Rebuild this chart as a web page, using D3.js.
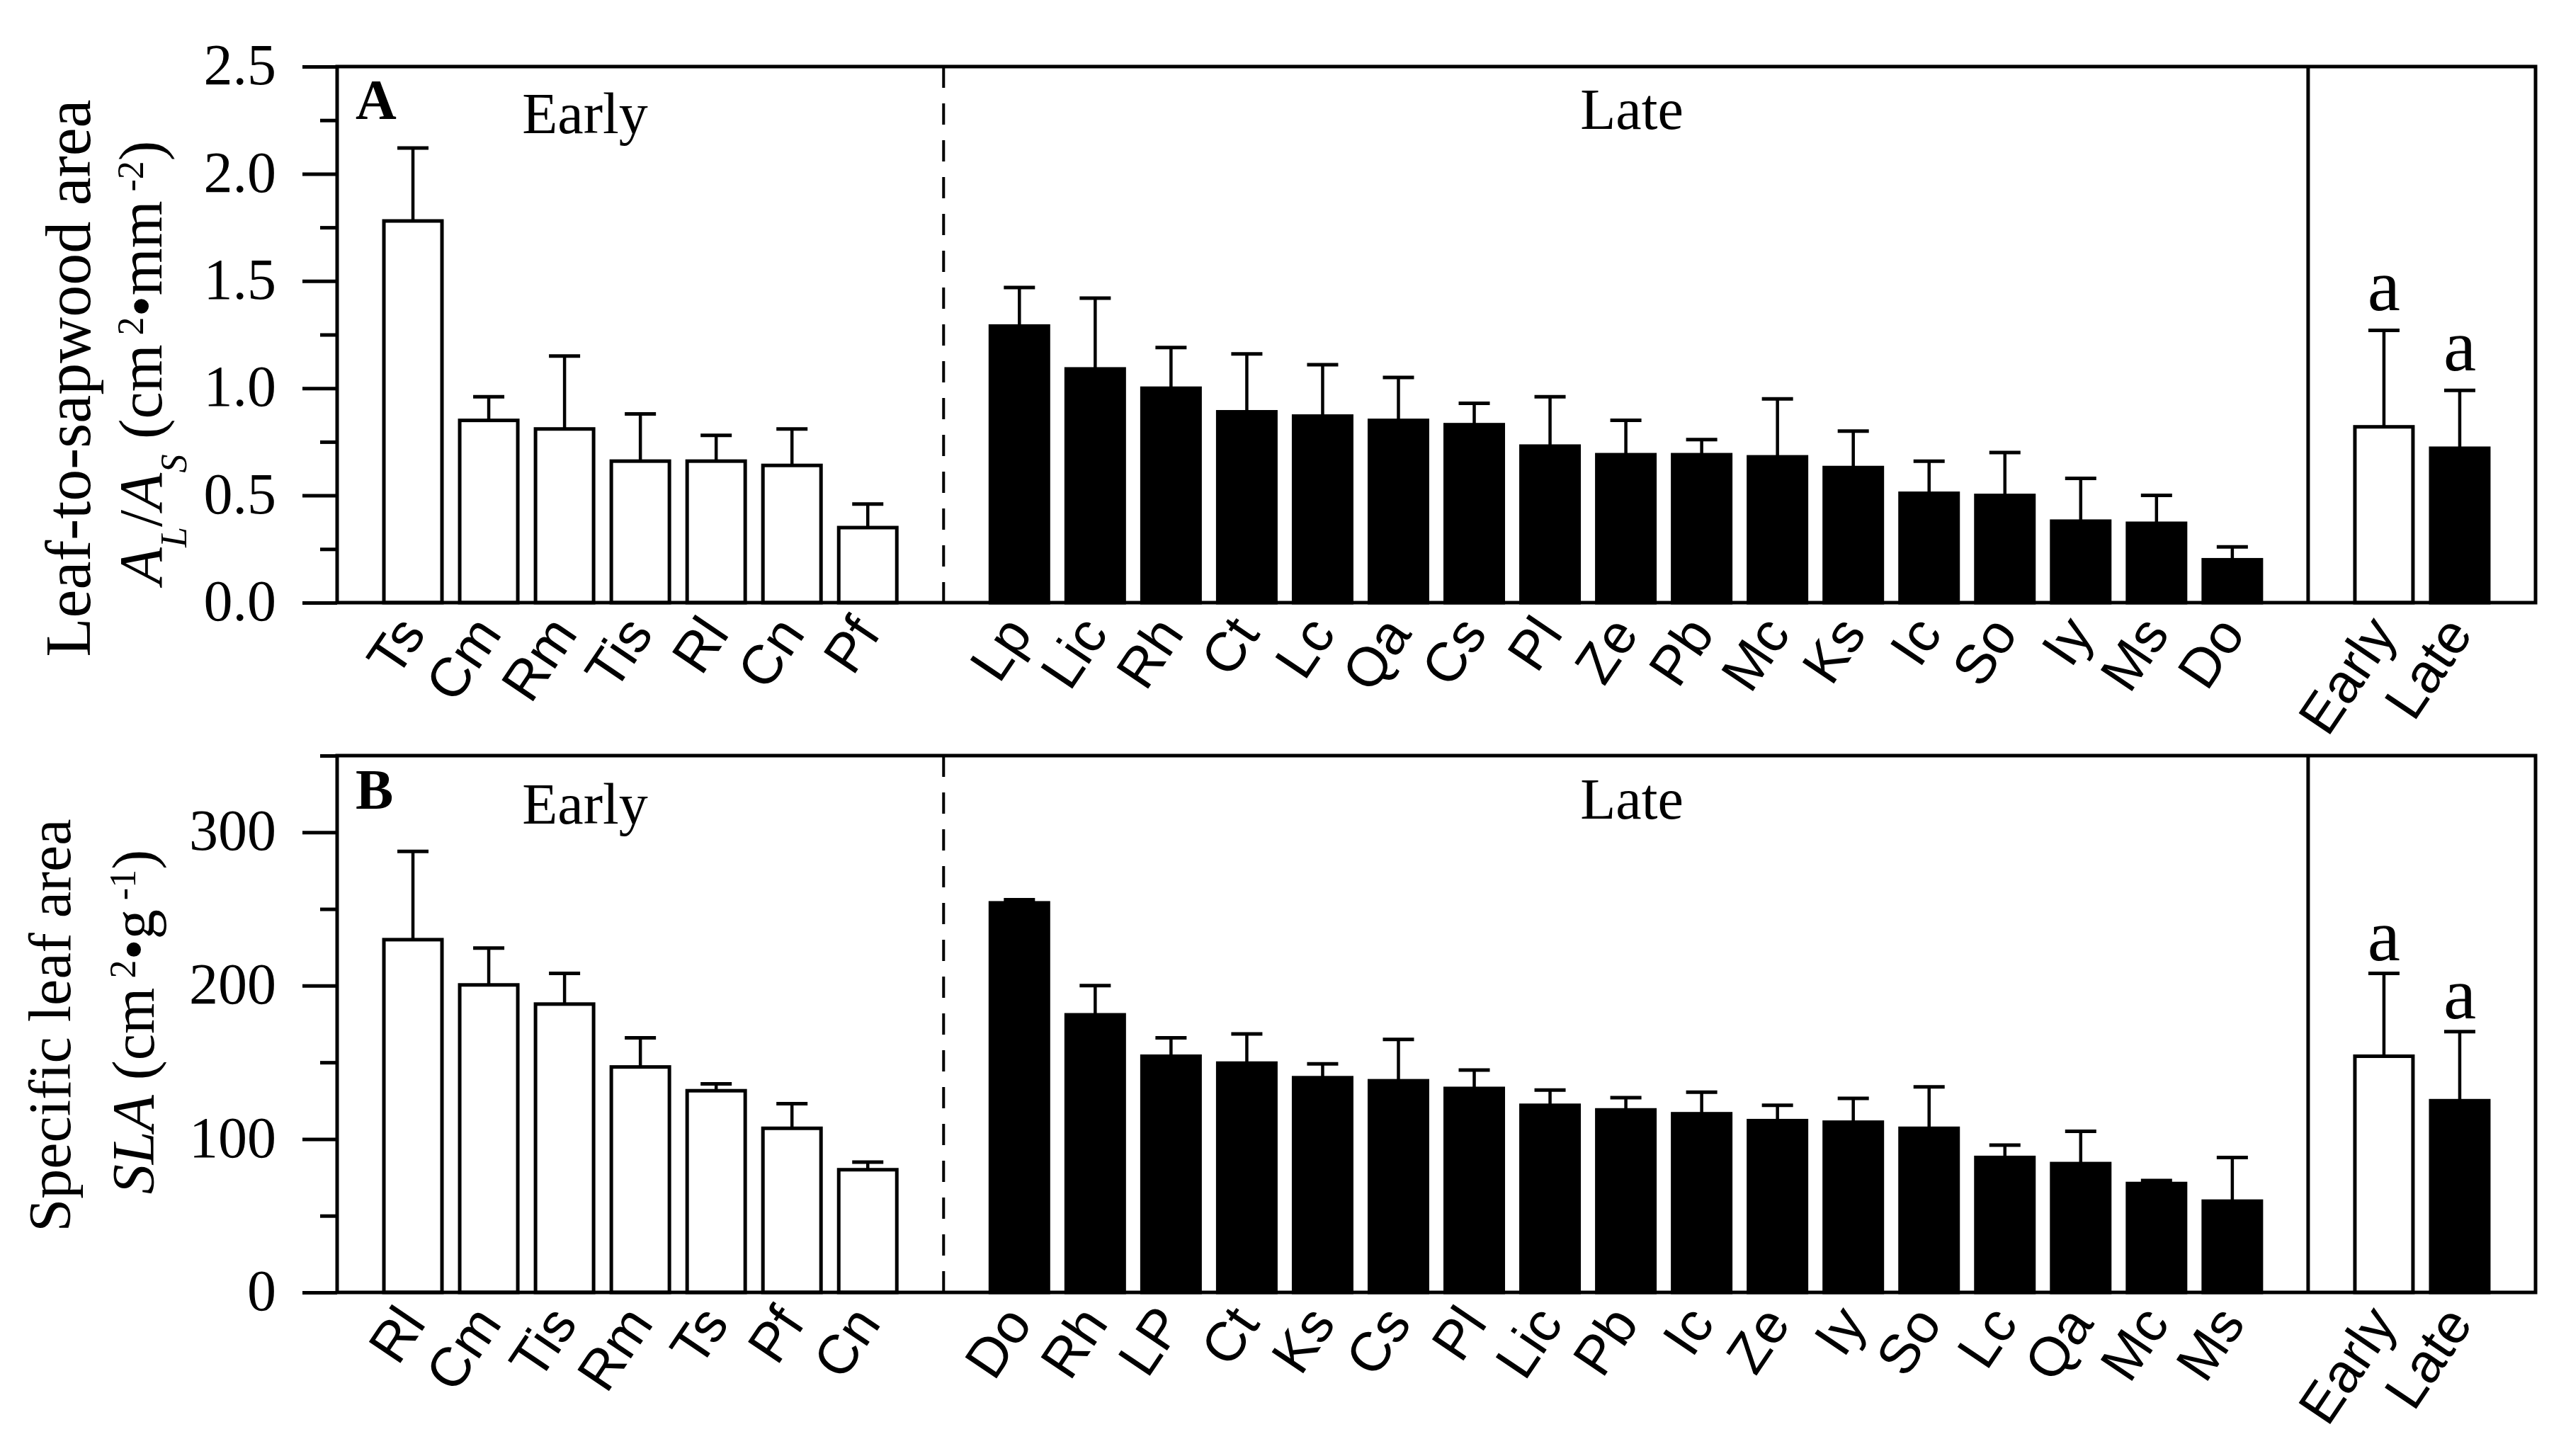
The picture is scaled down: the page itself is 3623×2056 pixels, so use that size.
<!DOCTYPE html>
<html>
<head>
<meta charset="utf-8">
<script src="https://cdn.jsdelivr.net/npm/d3@7"></script>
<style>
  html, body { margin: 0; padding: 0; background: #ffffff; }
  svg { display: block; }
</style>
</head>
<body>
<svg id="chart" width="3623" height="2056"></svg>
<script>
// ---------------- DATA ----------------
// Panel A: leaf-to-sapwood area (cm2 mm-2)
const earlySpeciesA = ["Ts", "Cm", "Rm", "Tis", "Rl", "Cn", "Pf"];
const earlyMeanA    = [1.78, 0.85, 0.81, 0.66, 0.66, 0.64, 0.35];
const earlyErrA     = [0.34, 0.11, 0.34, 0.22, 0.12, 0.17, 0.11];

const lateSpeciesA = ["Lp", "Lic", "Rh", "Ct", "Lc", "Qa", "Cs", "Pl", "Ze", "Pb", "Mc", "Ks", "Ic", "So", "Iy", "Ms", "Do"];
const lateMeanA    = [1.29, 1.09, 1.00, 0.89, 0.87, 0.85, 0.83, 0.73, 0.69, 0.69, 0.68, 0.63, 0.51, 0.50, 0.38, 0.37, 0.20];
const lateErrA     = [0.18, 0.33, 0.19, 0.27, 0.24, 0.20, 0.10, 0.23, 0.16, 0.07, 0.27, 0.17, 0.15, 0.20, 0.20, 0.13, 0.06];

const groupNames  = ["Early", "Late"];
const groupMeanA  = [0.82, 0.72];
const groupErrA   = [0.45, 0.27];
const groupSigA   = ["a", "a"];

// Panel B: specific leaf area (cm2 g-1)
const earlySpeciesB = ["Rl", "Cm", "Tis", "Rm", "Ts", "Pf", "Cn"];
const earlyMeanB    = [230, 200.5, 188, 147, 131.5, 107, 80];
const earlyErrB     = [57.5, 24, 20, 19, 4.5, 16, 5];

const lateSpeciesB = ["Do", "Rh", "LP", "Ct", "Ks", "Cs", "Pl", "Lic", "Pb", "Ic", "Ze", "Iy", "So", "Lc", "Qa", "Mc", "Ms"];
const lateMeanB    = [254, 181, 154, 149.5, 140, 138, 133, 122, 119, 116.5, 112, 111, 107, 88, 84, 71, 59.5];
const lateErrB     = [2, 19, 12, 19, 9, 27, 12, 10, 8, 14, 10, 15.5, 27, 8, 21, 2, 28.5];

const groupMeanB = [154, 125];
const groupErrB  = [54, 45];
const groupSigB  = ["a", "a"];

const ticksA = [0, 0.5, 1.0, 1.5, 2.0, 2.5];
const minorA = [0.25, 0.75, 1.25, 1.75, 2.25];
const ticksB = [0, 100, 200, 300];
const minorB = [50, 150, 250, 350];

// ---------------- DRAWING ----------------
const svg = d3.select("#chart");
svg.append("rect").attr("width", 3623).attr("height", 2056).attr("fill", "#ffffff");

const SERIF = "'Liberation Serif', 'Times New Roman', serif";
const SANS = "'Liberation Sans', Arial, sans-serif";

// shared horizontal slot scale: -1 = left axis, 7 = dashed divider, 25 = solid divider, 28 = right frame
const x = d3.scaleLinear().domain([-1, 28]).range([476, 3580]);
const barW = 82;

function buildRows(earlyNames, earlyMean, earlyErr, lateNames, lateMean, lateErr, gMean, gErr, gSig) {
  const rows = [];
  earlyNames.forEach((n, i) => rows.push({ name: n, pos: i, mean: earlyMean[i], err: earlyErr[i], fill: "#ffffff" }));
  lateNames.forEach((n, i) => rows.push({ name: n, pos: 8 + i, mean: lateMean[i], err: lateErr[i], fill: "#000000" }));
  groupNames.forEach((n, i) => rows.push({ name: n, pos: 26 + i, mean: gMean[i], err: gErr[i], fill: i === 0 ? "#ffffff" : "#000000", sig: gSig[i] }));
  return rows;
}

function drawPanel(cfg) {
  const g = svg.append("g");
  const y = d3.scaleLinear().domain(cfg.domain).range([cfg.bottom, cfg.top]);

  // bars
  g.selectAll("rect.bar").data(cfg.rows).enter().append("rect")
    .attr("class", "bar")
    .attr("x", d => x(d.pos) - barW / 2)
    .attr("y", d => y(d.mean))
    .attr("width", barW)
    .attr("height", d => y(0) - y(d.mean))
    .attr("fill", d => d.fill)
    .attr("stroke", "#000").attr("stroke-width", 5);

  // error bars (upper only)
  const eb = g.selectAll("g.err").data(cfg.rows).enter().append("g").attr("class", "err");
  eb.append("line")
    .attr("x1", d => x(d.pos)).attr("x2", d => x(d.pos))
    .attr("y1", d => y(d.mean)).attr("y2", d => y(d.mean + d.err))
    .attr("stroke", "#000").attr("stroke-width", 4.5);
  eb.append("line")
    .attr("x1", d => x(d.pos) - 22).attr("x2", d => x(d.pos) + 22)
    .attr("y1", d => y(d.mean + d.err)).attr("y2", d => y(d.mean + d.err))
    .attr("stroke", "#000").attr("stroke-width", 5);

  // significance letters
  g.selectAll("text.sig").data(cfg.rows.filter(d => d.sig)).enter().append("text")
    .attr("class", "sig")
    .attr("x", d => x(d.pos)).attr("y", d => y(d.mean + d.err) - cfg.sigGap)
    .attr("text-anchor", "middle")
    .attr("font-family", SERIF).attr("font-size", 104)
    .text(d => d.sig);

  // dashed divider
  g.append("line")
    .attr("x1", x(7)).attr("x2", x(7)).attr("y1", cfg.top).attr("y2", cfg.bottom)
    .attr("stroke", "#000").attr("stroke-width", 4).attr("stroke-dasharray", "30,22");
  // solid divider
  g.append("line")
    .attr("x1", x(25)).attr("x2", x(25)).attr("y1", cfg.top).attr("y2", cfg.bottom)
    .attr("stroke", "#000").attr("stroke-width", 5);

  // frame
  g.append("rect")
    .attr("x", x(-1)).attr("y", cfg.top)
    .attr("width", x(28) - x(-1)).attr("height", cfg.bottom - cfg.top)
    .attr("fill", "none").attr("stroke", "#000").attr("stroke-width", 5);

  // y axis: major ticks with labels
  const ax = g.append("g").attr("transform", `translate(${x(-1)},0)`)
    .call(d3.axisLeft(y).tickValues(cfg.ticks).tickSize(49).tickPadding(37).tickFormat(cfg.fmt));
  ax.select(".domain").remove();
  ax.selectAll(".tick line").attr("stroke", "#000").attr("stroke-width", 5);
  ax.selectAll(".tick text")
    .attr("font-family", SERIF).attr("font-size", 82).attr("fill", "#000").attr("dy", "0.3em");

  // minor ticks
  const mx = g.append("g").attr("transform", `translate(${x(-1)},0)`)
    .call(d3.axisLeft(y).tickValues(cfg.minor).tickSize(24).tickFormat(""));
  mx.select(".domain").remove();
  mx.selectAll(".tick line").attr("stroke", "#000").attr("stroke-width", 5);

  // bottom category labels
  g.selectAll("text.cat").data(cfg.rows).enter().append("text")
    .attr("class", "cat")
    .attr("transform", d => `translate(${x(d.pos) + 20},${cfg.bottom + 44}) rotate(-56)`)
    .attr("text-anchor", "end")
    .attr("font-family", SANS).attr("font-size", 78).attr("fill", "#000")
    .text(d => d.name);

  // panel letter
  g.append("text").attr("x", 502).attr("y", cfg.letterY)
    .attr("font-family", SERIF).attr("font-weight", "bold").attr("font-size", 80)
    .text(cfg.letter);

  // group headers
  g.append("text").attr("x", 826).attr("y", cfg.earlyY).attr("text-anchor", "middle")
    .attr("font-family", SERIF).attr("font-size", 82).text("Early");
  g.append("text").attr("x", 2304).attr("y", cfg.lateY).attr("text-anchor", "middle")
    .attr("font-family", SERIF).attr("font-size", 82).text("Late");

  return g;
}

const rowsA = buildRows(earlySpeciesA, earlyMeanA, earlyErrA, lateSpeciesA, lateMeanA, lateErrA, groupMeanA, groupErrA, groupSigA);
const rowsB = buildRows(earlySpeciesB, earlyMeanB, earlyErrB, lateSpeciesB, lateMeanB, lateErrB, groupMeanB, groupErrB, groupSigB);

drawPanel({
  rows: rowsA, domain: [0, 2.5], top: 94, bottom: 851,
  ticks: ticksA, minor: minorA, fmt: d3.format(".1f"),
  letter: "A", letterY: 168, earlyY: 188, lateY: 182, sigGap: 28
});
drawPanel({
  rows: rowsB, domain: [0, 350], top: 1067, bottom: 1825,
  ticks: ticksB, minor: minorB, fmt: d3.format("d"),
  letter: "B", letterY: 1142, earlyY: 1163, lateY: 1156, sigGap: 19
});

// ---------------- Y AXIS TITLES ----------------
function title(xb, yc, size, parts) {
  const t = svg.append("text")
    .attr("transform", `translate(${xb},${yc}) rotate(-90)`)
    .attr("text-anchor", "middle")
    .attr("font-family", SERIF).attr("font-size", size).attr("fill", "#000");
  parts.forEach(p => {
    const s = t.append("tspan").text(p.t);
    if (p.i) s.attr("font-style", "italic");
    if (p.s) s.attr("font-size", p.s);
    if (p.dy) s.attr("dy", p.dy);
  });
  return t;
}

title(127, 534, 90, [{ t: "Leaf-to-sapwood area" }]);
title(228, 512, 86, [
  { t: "A", i: true },
  { t: "L", i: true, s: 52, dy: 35 },
  { t: "/", dy: -35 },
  { t: "A", i: true },
  { t: "S", i: true, s: 52, dy: 35 },
  { t: " (cm", dy: -35 },
  { t: " 2", s: 52, dy: -26 },
  { t: "\u2022mm", dy: 26 },
  { t: " -2", s: 52, dy: -26 },
  { t: ")", dy: 26 }
]);

title(99, 1448, 84, [{ t: "Specific leaf area" }]);
title(217, 1443, 84, [
  { t: "SLA", i: true },
  { t: " (cm" },
  { t: " 2", s: 52, dy: -26 },
  { t: "\u2022g", dy: 26 },
  { t: " -1", s: 52, dy: -26 },
  { t: ")", dy: 26 }
]);
</script>
</body>
</html>
